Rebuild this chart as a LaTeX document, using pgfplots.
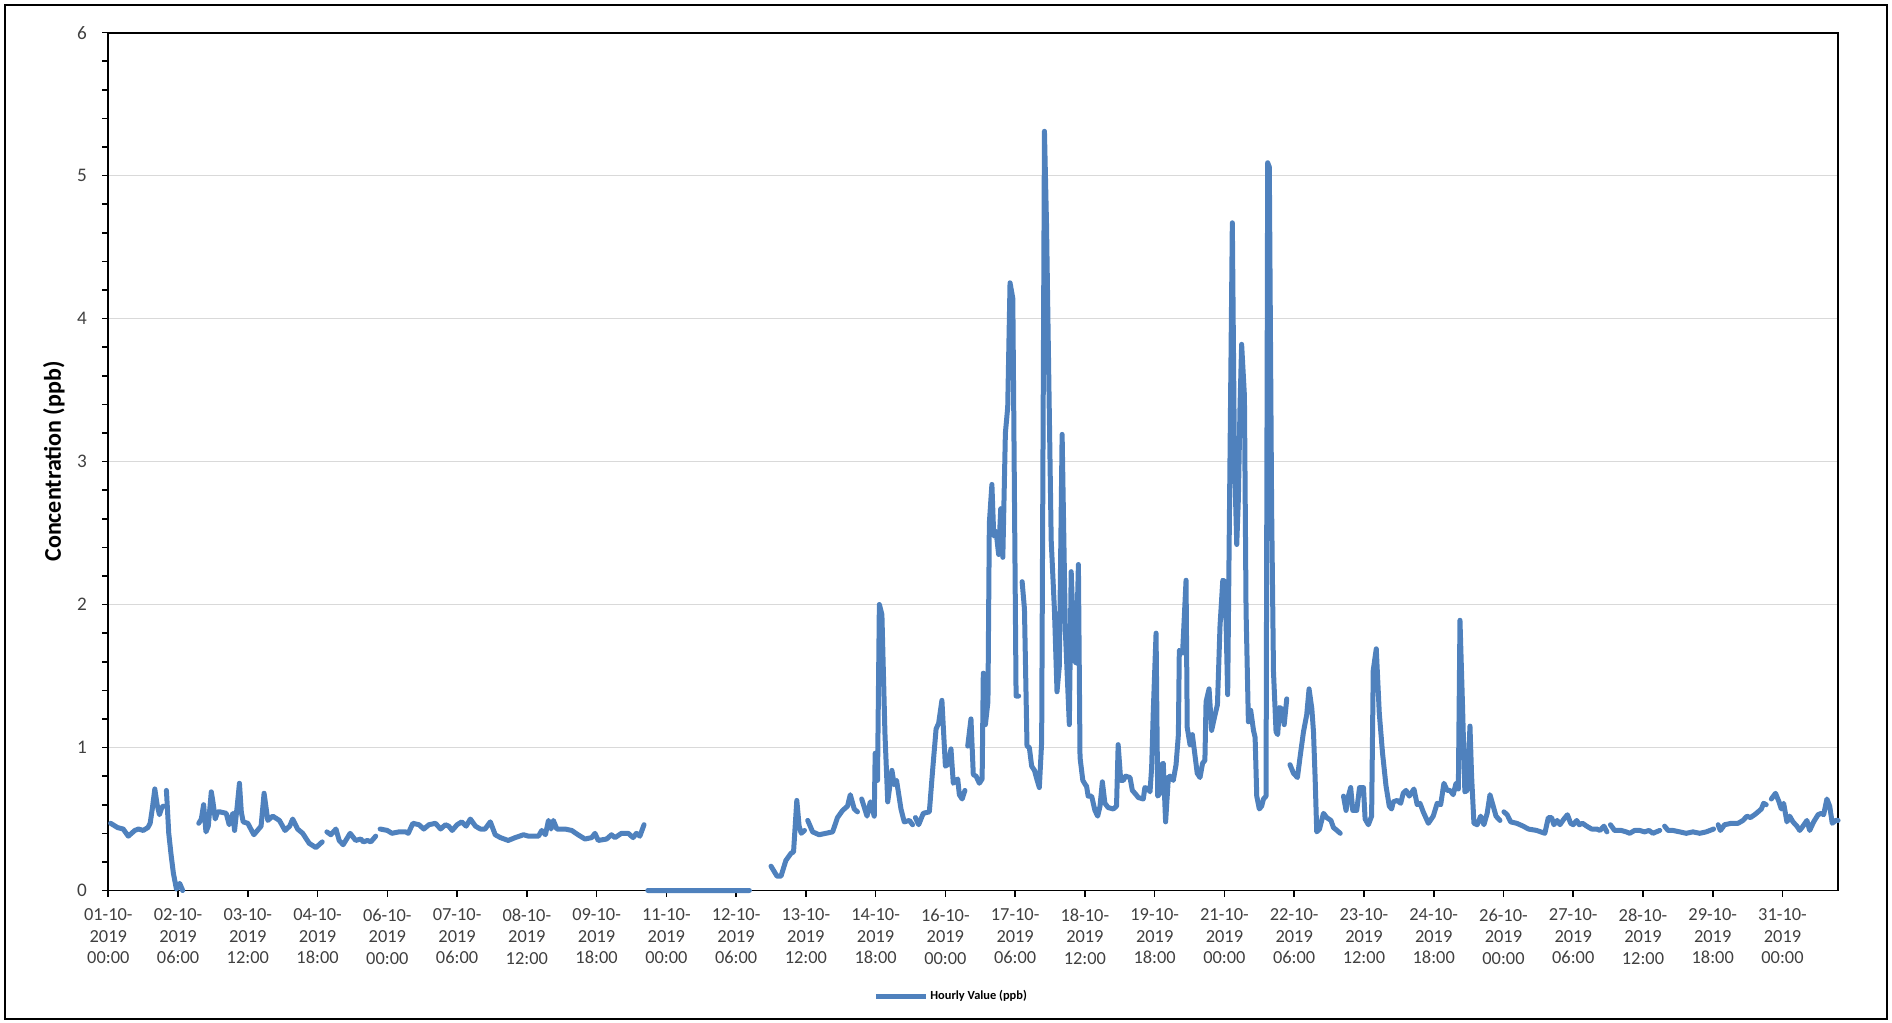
\documentclass[border=0pt]{standalone}
\usepackage{fontspec}
\setmainfont{Carlito}
\usepackage{pgfplots}
\usepackage{pgfplotstable}
\pgfplotsset{compat=1.18}
\definecolor{serblue}{RGB}{79,129,189}
\definecolor{tickgray}{RGB}{64,64,64}
\definecolor{gridgray}{RGB}{217,217,217}
\pgfplotstableread{
h v
1 0.47
2 0.46
4 0.44
6.4 0.43
8.6 0.38
10 0.40
11.4 0.42
13 0.43
15 0.42
17 0.44
18 0.47
19 0.58
20 0.71
21 0.60
22 0.53
23 0.58
23.6 0.59
24.3 nan
25 0.70
26 0.40
27 0.25
28 0.12
29.3 0.01
30.7 0.05
32 0.00
35 nan
38.9 0.47
40 0.50
41 0.60
42 0.41
43 0.45
44.3 0.69
45 0.62
46 0.50
47 0.55
48 0.55
50.7 0.54
52 0.46
53.6 0.54
54.3 0.42
55.5 0.60
56.4 0.75
57.2 0.55
58 0.48
60 0.47
62.6 0.39
65.7 0.45
67 0.68
68.6 0.49
70.7 0.52
73.6 0.49
76 0.42
78 0.45
79.3 0.50
81.4 0.43
83.6 0.40
86.4 0.33
89.3 0.30
92 0.34
93 nan
94 0.41
95.7 0.39
97.9 0.43
99.3 0.35
101 0.32
104 0.40
106.4 0.35
108.6 0.36
109.7 0.34
111.4 0.35
112.9 0.34
115 0.38
116 nan
116.9 0.43
120 0.42
122 0.40
125 0.41
127.9 0.41
129 0.40
131 0.47
133.6 0.46
135.7 0.43
137.9 0.46
140.7 0.47
142.9 0.43
145 0.46
146.4 0.45
147.9 0.42
150 0.46
152 0.48
153.9 0.45
155.7 0.50
157.9 0.45
160 0.43
162 0.43
164.3 0.48
166.4 0.39
168.6 0.37
172 0.35
175 0.37
178.6 0.39
180.7 0.38
185 0.38
186.4 0.42
188 0.39
189.3 0.49
190.4 0.43
191.4 0.49
192.9 0.43
196.4 0.43
199.3 0.42
202 0.39
205 0.36
207.9 0.37
209.3 0.40
210.7 0.35
214.3 0.36
216.4 0.39
217.9 0.37
220.7 0.40
223.6 0.40
225.7 0.37
227.1 0.40
228.6 0.38
230.4 0.46
231 nan
232 0
275.7 0
280 nan
285 0.17
287.6 0.10
289.3 0.10
291.4 0.21
293.6 0.26
294.7 0.27
296.1 0.63
297.1 0.45
298 0.40
299.4 0.42
300 nan
300.8 0.49
302.9 0.41
305.7 0.39
308.6 0.40
311.5 0.41
313.6 0.51
315.8 0.56
317.9 0.59
319.1 0.67
320.8 0.57
322.2 0.55
323 nan
324 0.64
326.3 0.52
327.7 0.62
329.4 0.52
329.8 0.96
330.8 0.77
331.6 2.00
332.7 1.93
334 1.10
335.2 0.62
337 0.84
338 0.74
339 0.77
340.9 0.57
342.3 0.48
344.5 0.49
345.9 0.46
346.5 nan
347.1 0.51
348.5 0.46
350.5 0.54
353.1 0.55
354.5 0.84
356 1.13
357.1 1.17
358.5 1.33
360 0.87
361 0.88
362.4 0.99
363.4 0.75
365.3 0.78
366 0.67
367.2 0.64
368.4 0.70
369 nan
369.6 1.01
371 1.20
372 0.81
373.2 0.80
374.6 0.75
375.8 0.78
376.3 1.52
377.2 1.16
378.3 1.32
378.9 2.57
380 2.84
380.8 2.48
381.8 2.51
382.9 2.35
383.8 2.67
384.7 2.33
385.8 3.20
386.8 3.38
387.8 4.25
389 4.14
390.4 1.36
391.5 1.36
392.2 nan
393 2.16
394 1.97
395.1 1.01
396.1 1.00
397.1 0.87
398.3 0.84
399.3 0.78
400.4 0.72
401.4 1.04
402.6 5.31
403.5 4.65
405.5 2.45
406.9 1.96
408 1.39
409 1.57
410.2 3.19
411.6 1.81
413.3 1.16
414.1 2.23
415.5 1.61
416.2 1.59
417.2 2.28
417.9 0.93
419.1 0.77
420.2 0.74
420.7 0.73
421.4 0.66
422.9 0.66
424.3 0.56
425.5 0.52
426.5 0.59
427.5 0.76
428.6 0.61
430 0.58
432.2 0.57
433.6 0.59
434.3 1.02
435.4 0.77
436.5 0.77
437.5 0.80
439.4 0.79
440.4 0.70
441.5 0.68
443 0.65
445.1 0.64
445.8 0.72
447.3 0.71
448 0.69
448.7 0.86
449.4 1.25
450.6 1.80
451.3 0.66
452.3 0.68
453 0.88
453.7 0.89
454.7 0.48
455.9 0.79
456.6 0.80
458 0.77
459.2 0.88
460.2 1.09
460.6 1.68
462 1.66
463.5 2.17
464 1.14
465.2 1.02
466.2 1.09
467.3 0.95
468.3 0.82
469.5 0.79
470.6 0.89
471.6 0.91
472.1 1.32
473.4 1.41
474.5 1.12
475.7 1.21
477 1.30
478.1 1.85
479.3 2.17
480.3 2.16
481.4 1.37
482.4 3.03
483.4 4.67
484.3 3.03
485.3 2.42
486 2.74
486.7 3.38
487.4 3.82
488.6 3.46
489.3 1.96
490.3 1.18
491.3 1.26
492.5 1.12
493.2 1.07
493.9 0.66
495 0.57
496 0.59
496.8 0.64
497.9 0.66
498.6 5.09
499.3 5.06
500.3 2.67
501.1 1.53
502.2 1.11
502.9 1.09
503.7 1.28
504.6 1.27
505.7 1.16
506.8 1.34
507.5 nan
508.2 0.88
509.7 0.82
511.4 0.79
512.5 0.93
514 1.11
515.4 1.23
516.4 1.41
517.6 1.27
518.3 1.11
519 0.79
519.7 0.41
520.9 0.43
522.6 0.54
524 0.51
525.8 0.49
526.9 0.44
528.4 0.42
529.8 0.40
530.5 nan
531.2 0.66
532.3 0.56
533.3 0.66
534.3 0.72
535.2 0.56
536.9 0.56
538.1 0.72
539.8 0.72
540.5 0.50
541.9 0.46
543.3 0.52
544 1.54
545.3 1.69
546.6 1.24
548 0.96
549.5 0.73
550.9 0.59
551.9 0.57
552.6 0.62
554.3 0.63
555.8 0.61
556.9 0.68
558.1 0.70
559.5 0.66
561.5 0.71
562.9 0.60
564.1 0.61
565.5 0.55
567.7 0.47
569.8 0.52
571.5 0.61
573 0.60
574.4 0.75
575.8 0.70
577 0.70
578.4 0.67
579.6 0.75
580.6 0.71
581.3 1.89
582.4 1.29
583.4 0.69
584.4 0.70
585.6 1.15
586.3 0.80
587.3 0.47
588.7 0.46
590.2 0.52
591.6 0.46
593 0.54
594.2 0.67
595.6 0.59
596.8 0.52
598.5 0.49
599.3 nan
600.2 0.55
601.6 0.53
603.1 0.48
605.7 0.47
608.5 0.45
610.7 0.43
614.3 0.42
617.8 0.40
619.3 0.51
620.7 0.51
621.7 0.46
623.1 0.49
624.3 0.46
626 0.50
627.5 0.53
628.9 0.47
630 0.46
631.5 0.49
632.6 0.46
634 0.47
635.8 0.45
637.9 0.43
640.1 0.43
641.5 0.42
643.2 0.45
644.5 0.41
645.2 nan
646 0.46
647.8 0.42
650.7 0.42
652.8 0.41
654.3 0.40
656.4 0.42
658.6 0.42
660.7 0.41
662.6 0.42
664.3 0.40
665.7 0.41
667.2 0.42
668.3 nan
669.3 0.45
670.8 0.42
672.9 0.42
675.8 0.41
678.6 0.40
681.5 0.41
684.4 0.40
687.2 0.41
690.4 0.43
691.4 nan
692.3 0.46
693.3 0.42
695.1 0.46
698 0.47
700.9 0.47
703 0.49
704.7 0.52
706.2 0.51
708 0.53
709.5 0.55
710.9 0.57
711.9 0.61
713 0.60
714 nan
715.2 0.64
717 0.68
718.5 0.62
719.5 0.57
720.5 0.61
721.9 0.48
723.1 0.52
724.5 0.48
726.2 0.45
727.4 0.42
728.8 0.45
730.5 0.49
731.7 0.42
733.4 0.48
735.3 0.53
736.7 0.54
737.7 0.53
739.1 0.64
740.3 0.59
741.4 0.47
742.9 0.49
743.9 0.49
}\hourly
\begin{document}
\begin{tikzpicture}
\useasboundingbox (-54.15pt,-66.25pt) rectangle (891.85pt,445.25pt);
\draw[black, line width=0.8pt] (-51.65pt,-64.25pt) rectangle (889.35pt,442.75pt);
\begin{axis}[
  at={(0pt,0pt)}, anchor=south west,
  scale only axis, width=865pt, height=428.95pt,
  xmin=0, xmax=744, ymin=0, ymax=6,
  clip=false,
  unbounded coords=jump,
  axis line style={black, line width=0.9pt},
  tick pos=left, tick align=outside,
  tick style={black, line width=0.8pt},
  major tick length=3pt, minor tick length=3pt,
  ytick={0,1,2,3,4,5,6}, minor y tick num=4,
  ymajorgrids, major grid style={gridgray, line width=0.75pt},
  xtick={0,30,...,720},
  xticklabels={{01-10-\\2019\\00:00},{02-10-\\2019\\06:00},{03-10-\\2019\\12:00},{04-10-\\2019\\18:00},{06-10-\\2019\\00:00},{07-10-\\2019\\06:00},{08-10-\\2019\\12:00},{09-10-\\2019\\18:00},{11-10-\\2019\\00:00},{12-10-\\2019\\06:00},{13-10-\\2019\\12:00},{14-10-\\2019\\18:00},{16-10-\\2019\\00:00},{17-10-\\2019\\06:00},{18-10-\\2019\\12:00},{19-10-\\2019\\18:00},{21-10-\\2019\\00:00},{22-10-\\2019\\06:00},{23-10-\\2019\\12:00},{24-10-\\2019\\18:00},{26-10-\\2019\\00:00},{27-10-\\2019\\06:00},{28-10-\\2019\\12:00},{29-10-\\2019\\18:00},{31-10-\\2019\\00:00}},
  xticklabel style={align=center, anchor=north, inner sep=0pt, yshift=-6pt, text=tickgray, font=\fontsize{9.2}{10.75}\selectfont},
  yticklabel style={anchor=east, inner sep=0pt, xshift=-7.5pt, text=tickgray, font=\fontsize{9.6}{11}\selectfont},
  /pgf/number format/assume math mode=true,
  ylabel={Concentration (ppb)},
  every axis y label/.style={at={(axis description cs:-0.0314,0.5)}, rotate=90, anchor=center, font=\bfseries\fontsize{12}{14}\selectfont},
  legend style={at={(0.442,-0.124)}, anchor=west, draw=none, fill=none, inner sep=0pt, font=\bfseries\fontsize{6.2}{7}\selectfont, nodes={inner sep=1pt, text=black}},
  legend image code/.code={\draw[#1, line cap=butt] (0pt,0pt) -- (25pt,0pt);},
]
\addplot[serblue, line width=2.5pt, line join=round, line cap=round] table[x=h, y=v] {\hourly};
\addlegendentry{Hourly Value (ppb)}
\end{axis}
\end{tikzpicture}
\end{document}
